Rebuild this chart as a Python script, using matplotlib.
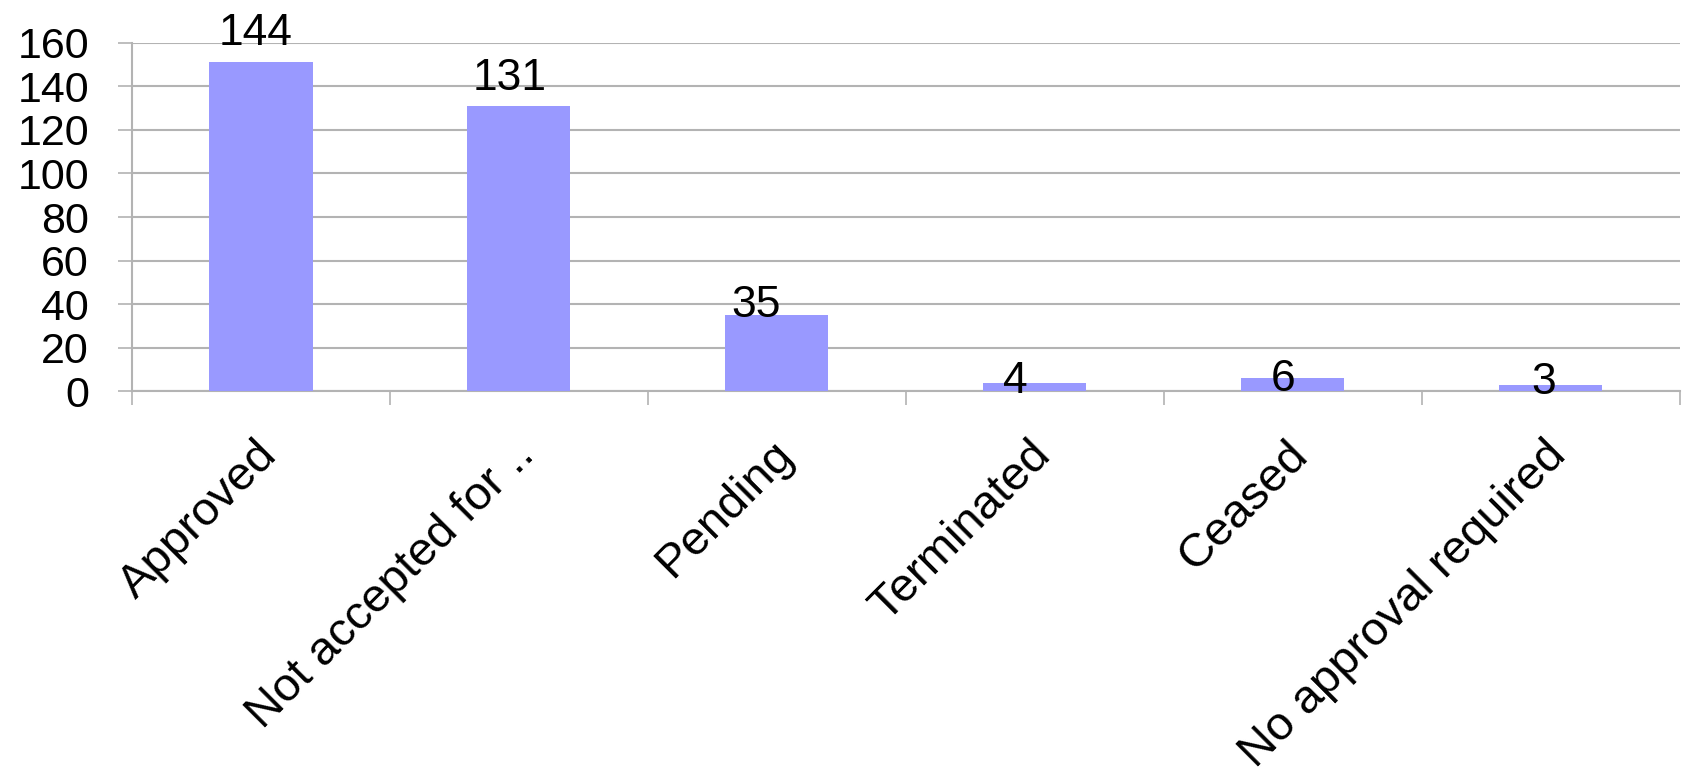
import matplotlib
matplotlib.use("Agg")
import matplotlib.pyplot as plt
import matplotlib.transforms as mtransforms
import numpy as np

categories = ["Approved", "Not accepted for ..", "Pending", "Terminated", "Ceased", "No approval required"]
bar_heights = [151, 131, 35, 4, 6, 3]
value_labels = ["144", "131", "35", "4", "6", "3"]
yticks = [0, 20, 40, 60, 80, 100, 120, 140, 160]

# offset (points) of each value label centre from its bar top centre (x, y)
label_offsets_pt = [(-4, 21), (-7, 20), (-15, 7), (-14, 1), (-7, -1), (-5, 2)]

plt.rcParams['font.family'] = ['Liberation Sans', 'DejaVu Sans']

fig = plt.figure(figsize=(16.83, 7.78), dpi=100)
ax = fig.add_axes([0.0784, 0.497, 0.9196, 0.448])

x = np.arange(len(categories))
ax.bar(x, bar_heights, width=0.4, color="#9999ff", zorder=3)

for xi, h, lab, off in zip(x, bar_heights, value_labels, label_offsets_pt):
    ax.annotate(lab, (xi, h), xytext=off, textcoords="offset points",
                ha="center", va="center", fontsize=32, color="black", zorder=4)

ax.set_xlim(-0.5, len(categories) - 0.5)
ax.set_ylim(0, 160)
ax.set_yticks(yticks)
ax.set_yticklabels([str(v) for v in yticks])
ax.yaxis.grid(True, color="#b3b3b3", linewidth=1.5, zorder=0)
ax.tick_params(axis="y", direction="out", length=10, width=1.2, color="#b3b3b3",
               labelsize=31, pad=21)

ax.set_xticks(x)
ax.set_xticklabels(categories, rotation=45, ha="right", va="center",
                   rotation_mode="anchor", fontsize=34)
ax.tick_params(axis="x", which="major", length=0, pad=41)
shift = mtransforms.ScaledTranslation(0.09, 0, fig.dpi_scale_trans)
for t in ax.get_xticklabels():
    t.set_transform(t.get_transform() + shift)
ax.set_xticks(np.arange(len(categories) + 1) - 0.5, minor=True)
ax.tick_params(axis="x", which="minor", direction="out", length=10, width=1.2, color="#b3b3b3")

for s in ["top", "right"]:
    ax.spines[s].set_visible(False)
for s in ["left", "bottom"]:
    ax.spines[s].set_color("#b3b3b3")
    ax.spines[s].set_linewidth(1.5)

fig.savefig("out.png", dpi=100)
